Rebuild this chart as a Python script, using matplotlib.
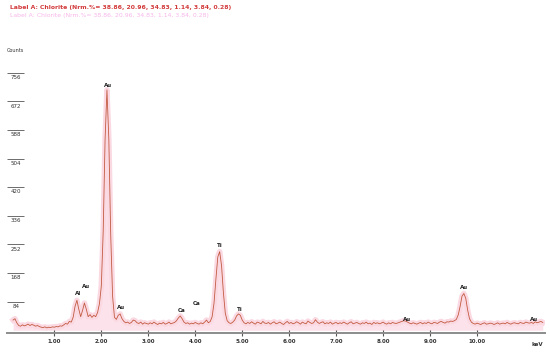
import numpy as np
import matplotlib
matplotlib.use("Agg")
import matplotlib.pyplot as plt
from matplotlib import transforms

# EDS spectrum, Label A: Chlorite -- counts per 0.04 keV channel starting at 0.12 keV
E0, DE = 0.12, 0.04
counts = [
    30, 34, 22, 14, 12, 16, 13, 15, 18, 14, 17, 15, 12, 14, 11, 9, 8, 10, 7, 9, 8, 10,
    9, 11, 10, 13, 12, 16, 20, 18, 26, 24, 38, 70, 88, 62, 40, 58, 80, 62,
    40, 46, 38, 44, 40, 52, 78, 130, 290, 560, 706, 560, 280, 100, 38, 32, 44, 48, 34, 26,
    22, 24, 20, 23, 30, 28, 22, 20, 24, 18, 22, 20, 18, 22, 19, 24, 20, 17, 21, 19,
    23, 18, 20, 24, 19, 21, 23, 28, 36, 42, 34, 24, 20, 22, 18, 21, 19, 23, 20, 18,
    22, 19, 24, 30, 22, 26, 40, 80, 150, 215, 231, 190, 110, 50, 28, 22, 20, 24, 30, 42,
    48, 44, 30, 22, 19,
    23, 20, 25, 21, 18, 24, 22, 19, 26, 21,
    20, 23, 18, 22, 25, 19, 21, 24, 20, 17,
    22, 26, 20, 23, 19, 21, 25, 22, 18, 24,
    21, 19, 27, 23, 20, 22, 31, 24, 20, 23,
    25, 19, 22, 20, 24, 18, 21, 23, 19, 22,
    20, 24, 21, 18, 22, 25, 19, 21, 23, 20,
    18, 22, 20, 24, 19, 21, 17, 23, 20, 22,
    19, 21, 24, 20, 18, 22, 19, 23, 21, 20,
    22, 24, 26, 28, 27, 24, 21, 19, 22, 20,
    18, 21, 23, 19, 22, 20, 24, 21, 19, 23,
    22, 20, 24, 26, 23, 21, 25, 24, 27, 26,
    28, 32, 45, 70, 100, 108, 94, 60, 34, 24,
    20, 18, 21, 19, 17, 20, 22, 18, 19, 21,
    20, 17, 19, 22, 18, 20, 21, 19, 23, 20,
    18, 21, 22, 20, 19, 23, 21, 20, 24, 22,
    21, 23, 20, 25, 22, 24, 26, 23,
]
energy = E0 + DE * np.arange(len(counts))

peak_names = ["Au", "Al", "Au", "Au", "Ca", "Ca", "Ti", "Ti", "Au", "Au", "Au"]
peak_kev = [2.15, 1.51, 1.67, 2.42, 3.71, 4.03, 4.53, 4.95, 9.73, 8.50, 11.21]
peak_lbl_y = [718, 107, 128, 68, 59, 79, 248, 62, 126, 32, 32]

yticks = [84, 168, 252, 336, 420, 504, 588, 672, 756]
xticks = [1, 2, 3, 4, 5, 6, 7, 8, 9, 10]

title = "Label A: Chlorite (Nrm.%= 38.86, 20.96, 34.83, 1.14, 3.84, 0.28)"

W, H = 550, 353
fig = plt.figure(figsize=(W / 100, H / 100), dpi=100)
ax = fig.add_axes([7.4 / W, (H - 333) / H, 537.6 / W, 275.1 / H])
ax.set_xlim(0, 537.6 / 46.96)
ax.set_ylim(-8, 800)

ax.fill_between(energy, 0, counts, color="#fce2ea", lw=0)
ax.plot(energy, counts, color="#fbd9e3", lw=4, solid_joinstyle="round")
ax.plot(energy, counts, color="#c25a40", lw=0.6)

for nm, ex, ey in zip(peak_names, peak_kev, peak_lbl_y):
    ax.text(ex, ey, nm, ha="center", va="center", fontsize=4, fontweight="bold", color="#222")

for s in ["top", "right", "left"]:
    ax.spines[s].set_visible(False)
ax.spines["bottom"].set_color("#8c8c8c")
ax.spines["bottom"].set_linewidth(1.4)

ax.set_xticks(xticks)
ax.set_xticklabels([f"{v:.2f}" for v in xticks], fontsize=4, fontweight="bold", color="#333")
ax.tick_params(axis="x", direction="inout", length=4, width=0.8, color="#555", pad=2)
ax.set_yticks(yticks)
ax.set_yticklabels([])
ax.tick_params(axis="y", direction="in", length=12, width=0.6, color="#555")

lab_tr = transforms.offset_copy(transforms.blended_transform_factory(ax.transAxes, ax.transData),
                                fig=fig, x=0, y=-4.6 * 72 / 100, units="points")
for v in yticks:
    ax.text(8.3 / 537.6, v, str(v), transform=lab_tr, ha="center", va="center",
            fontsize=4, color="#333")

ax.text(0.997, -0.031, "keV", transform=ax.transAxes, ha="right", va="top",
        fontsize=4, fontweight="bold", color="#333")
fig.text(15 / W, 1 - 50 / H, "Counts", ha="center", va="center", fontsize=3.6, color="#333")
fig.text(9.5 / W, 1 - 7.3 / H, title, ha="left", va="center", fontsize=4.4,
         fontweight="bold", color="#d23a3a")
fig.text(9.5 / W, 1 - 15 / H, title, ha="left", va="center", fontsize=4.4,
         color="#f27ad8", alpha=0.55)

fig.savefig("out.png", dpi=100)
